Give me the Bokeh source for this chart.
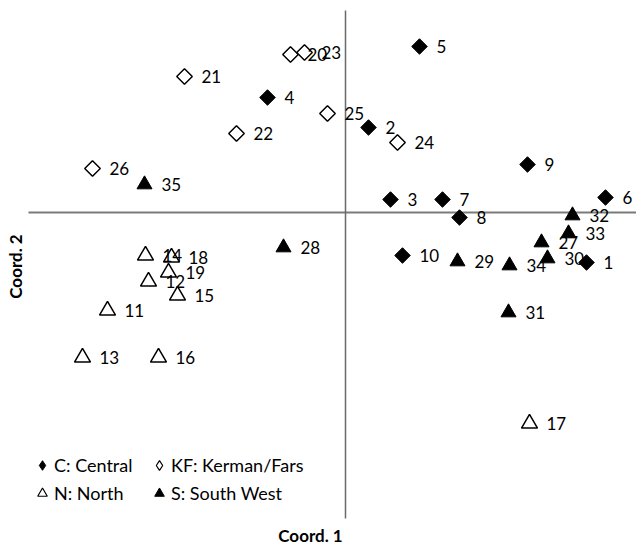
import math
from bokeh.plotting import figure
from bokeh.models import Range1d, ColumnDataSource, Label, Legend, LegendItem
from bokeh.core.properties import value
from bokeh.embed import file_html
from bokeh.resources import INLINE

# ---- data (arbitrary ordination units) ----
central_ids = ["1", "2", "3", "4", "5", "6", "7", "8", "9", "10"]
central_x = [2.41, 0.23, 0.45, -0.78, 0.74, 2.60, 0.97, 1.14, 1.82, 0.57]
central_y = [-0.50, 0.85, 0.13, 1.15, 1.66, 0.15, 0.13, -0.05, 0.48, -0.43]

kf_ids = ["20", "21", "22", "23", "24", "25", "26"]
kf_x = [-0.55, -1.61, -1.09, -0.41, 0.52, -0.18, -2.53]
kf_y = [1.58, 1.36, 0.79, 1.60, 0.70, 0.99, 0.44]

north_ids = ["11", "12", "13", "14", "15", "16", "17", "18", "19"]
north_x = [-2.38, -1.97, -2.63, -2.00, -1.68, -1.87, 1.84, -1.74, -1.77]
north_y = [-0.98, -0.69, -1.45, -0.43, -0.83, -1.45, -2.11, -0.45, -0.60]

south_ids = ["27", "28", "29", "30", "31", "32", "33", "34", "35"]
south_x = [1.96, -0.62, 1.12, 2.02, 1.63, 2.27, 2.23, 1.64, -2.01]
south_y = [-0.30, -0.35, -0.49, -0.46, -1.00, -0.03, -0.21, -0.53, 0.28]

group_labels = ["C: Central", "KF: Kerman/Fars", "N: North", "S: South West"]
axis_titles = ["Coord. 1", "Coord. 2"]

# axis line extents (data units)
H_AXIS = (-3.17, 2.95)
V_AXIS = (2.02, -3.06)

FONT = "Lato"
p = figure(width=636, height=547, x_range=Range1d(-3.45, 2.91),
           y_range=Range1d(-3.35, 2.12), output_backend="svg",
           toolbar_location=None, x_axis_type=None, y_axis_type=None,
           min_border=0)
p.grid.visible = False
p.outline_line_color = None

# axes crossing at origin
p.segment(x0=[H_AXIS[0]], y0=[0], x1=[H_AXIS[1]], y1=[0],
          line_color="#7a7a7a", line_width=2)
p.segment(x0=[0], y0=[V_AXIS[0]], x1=[0], y1=[V_AXIS[1]],
          line_color="#6a6a6a", line_width=1.5)

src_c = ColumnDataSource(dict(x=central_x, y=central_y, t=central_ids))
src_k = ColumnDataSource(dict(x=kf_x, y=kf_y, t=kf_ids))
src_n = ColumnDataSource(dict(x=north_x, y=north_y, t=north_ids))
src_s = ColumnDataSource(dict(x=south_x, y=south_y, t=south_ids))

p.scatter("x", "y", source=src_c, marker="square", angle=math.pi / 4,
          size=11, fill_color="black", line_color="black")
p.scatter("x", "y", source=src_k, marker="square", angle=math.pi / 4,
          size=11, fill_color="white", line_color="black", line_width=1.5)
p.scatter("x", "y", source=src_n, marker="triangle",
          size=16, fill_color="white", line_color="black", line_width=1.5)
p.scatter("x", "y", source=src_s, marker="triangle",
          size=15, fill_color="black", line_color="black")

for src in (src_c, src_k, src_n, src_s):
    p.text("x", "y", text="t", source=src, x_offset=17,
           text_baseline="middle", text_align="left",
           text_font=value(FONT), text_font_size="17px", text_color="black")

# legend-only glyphs (a single undrawn NaN point), shaped like the reference key
NAN = float("nan")
lg_c = p.scatter(x=[NAN], y=[NAN], marker="diamond", fill_color="black", line_color="black")
lg_k = p.scatter(x=[NAN], y=[NAN], marker="diamond", fill_color="white", line_color="black", line_width=1.2)
lg_n = p.scatter(x=[NAN], y=[NAN], marker="triangle", fill_color="white", line_color="black", line_width=1.2)
lg_s = p.scatter(x=[NAN], y=[NAN], marker="triangle", fill_color="black", line_color="black")

leg_kw = dict(label_text_font=FONT, label_text_font_size="18px",
              label_text_color="black", glyph_width=24, glyph_height=26,
              label_height=26, label_standoff=0, spacing=2, padding=0,
              margin=0, border_line_color=None, background_fill_alpha=0)
legend_a = Legend(items=[LegendItem(label=group_labels[0], renderers=[lg_c]),
                         LegendItem(label=group_labels[2], renderers=[lg_n])],
                  location=(30, 41), **leg_kw)
legend_b = Legend(items=[LegendItem(label=group_labels[1], renderers=[lg_k]),
                         LegendItem(label=group_labels[3], renderers=[lg_s])],
                  location=(147, 41), **leg_kw)
p.add_layout(legend_a)
p.add_layout(legend_b)

p.add_layout(Label(x=-0.35, y=-3.23, text=axis_titles[0], text_font=FONT,
                   text_font_style="bold", text_font_size="17px",
                   text_color="black",
                   text_align="center", text_baseline="middle"))
p.add_layout(Label(x=-3.30, y=-0.54, text=axis_titles[1], text_font=FONT,
                   text_font_style="bold", text_font_size="17px",
                   text_color="black",
                   text_align="center", text_baseline="middle",
                   angle=math.pi / 2))

open("out.html", "w").write(file_html(p, INLINE))
